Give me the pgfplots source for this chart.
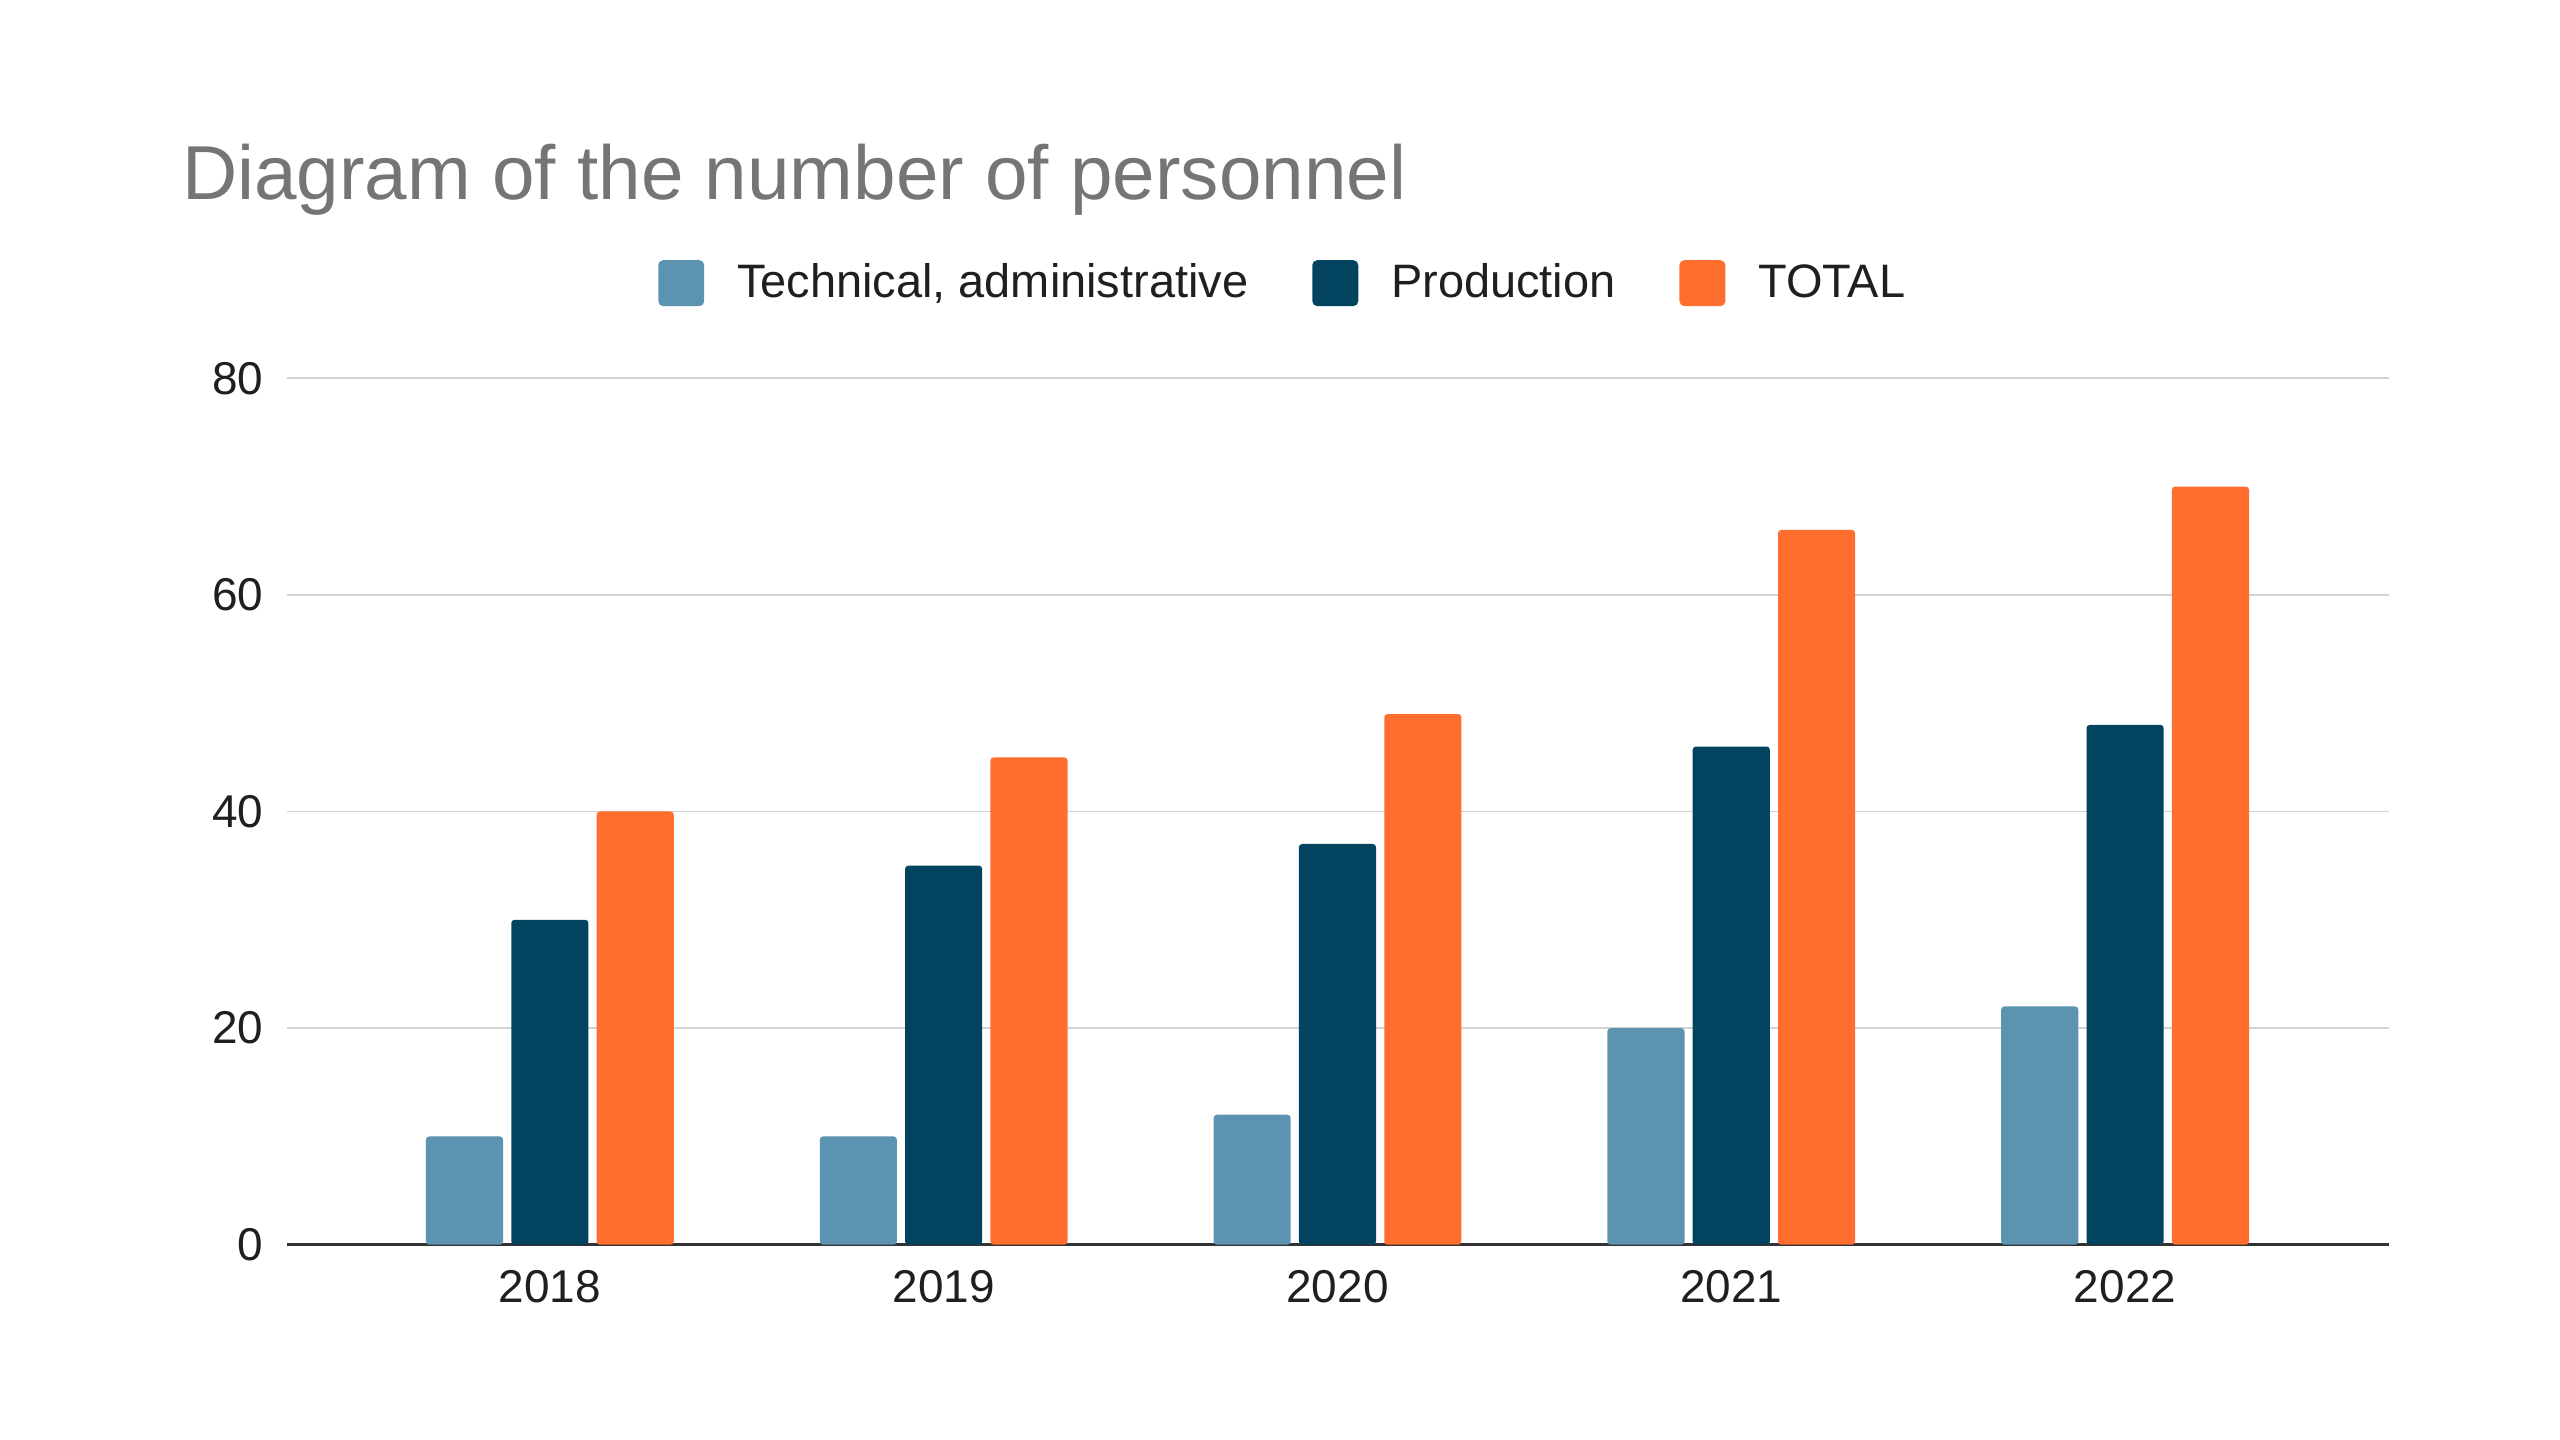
\documentclass[border=0pt]{standalone}
\usepackage{pgfplots}
\pgfplotsset{compat=1.18}
\usepackage{fontspec}
\setmainfont{Liberation Sans}
\definecolor{ctech}{HTML}{5B93B1}
\definecolor{cprod}{HTML}{02445F}
\definecolor{ctot}{HTML}{FF6D2F}
\definecolor{cgrid}{HTML}{D3D3D3}
\definecolor{caxis}{HTML}{333333}
\definecolor{ctitle}{HTML}{757575}
\pgfplotsset{
  sqleg/.style={legend image code/.code={\fill[##1, rounded corners=1.5pt] (0pt,-7pt) rectangle (14pt,7pt);}},
}
\begin{document}
\begin{tikzpicture}
\path[use as bounding box] (0,0) rectangle (780pt,438.75pt);
\node[anchor=base west, text=ctitle, font=\fontsize{23.3}{28}\selectfont] at (52pt,378pt) {Diagram of the number of personnel};
\begin{axis}[
  at={(87.5pt,59.5pt)}, anchor=south west,
  scale only axis, width=640.5pt, height=264pt,
  ybar, bar width=23.5pt,
  xmin=-0.667, xmax=4.671, ymin=0, ymax=80,
  xtick={0,1,2,3,4}, xticklabels={2018,2019,2020,2021,2022},
  ytick={0,20,40,60,80},
  ymajorgrids, grid style={draw=cgrid, line width=0.6pt},
  axis x line*=bottom, axis y line*=left,
  x axis line style={-, draw=caxis, line width=1pt},
  y axis line style={draw=none},
  major tick length=0pt, tick style={draw=none},
  /pgf/number format/assume math mode=true,
  tick label style={font=\fontsize{14}{16}\selectfont, text=black!88},
  yticklabel style={xshift=-3.8pt},
  xticklabel style={yshift=-4.3pt},
  legend style={draw=none, fill=none, at={(0.4731,1.1098)}, anchor=center,
    legend columns=-1, font=\fontsize{14.3}{16}\selectfont, text=black!88,
    nodes={inner sep=0pt, anchor=west},
    /tikz/every odd column/.append style={column sep=10pt},
    /tikz/every even column/.append style={column sep=19.5pt}},
]
\addplot[fill=ctech, draw=none, bar shift=-26pt, sqleg, rounded corners=1pt] coordinates {(0,10) (1,10) (2,12) (3,20) (4,22)};
\addplot[fill=cprod, draw=none, bar shift=0pt, sqleg, rounded corners=1pt] coordinates {(0,30) (1,35) (2,37) (3,46) (4,48)};
\addplot[fill=ctot, draw=none, bar shift=26pt, sqleg, rounded corners=1pt] coordinates {(0,40) (1,45) (2,49) (3,66) (4,70)};
\legend{{Technical, administrative}, Production, TOTAL}
\end{axis}
\end{tikzpicture}
\end{document}
